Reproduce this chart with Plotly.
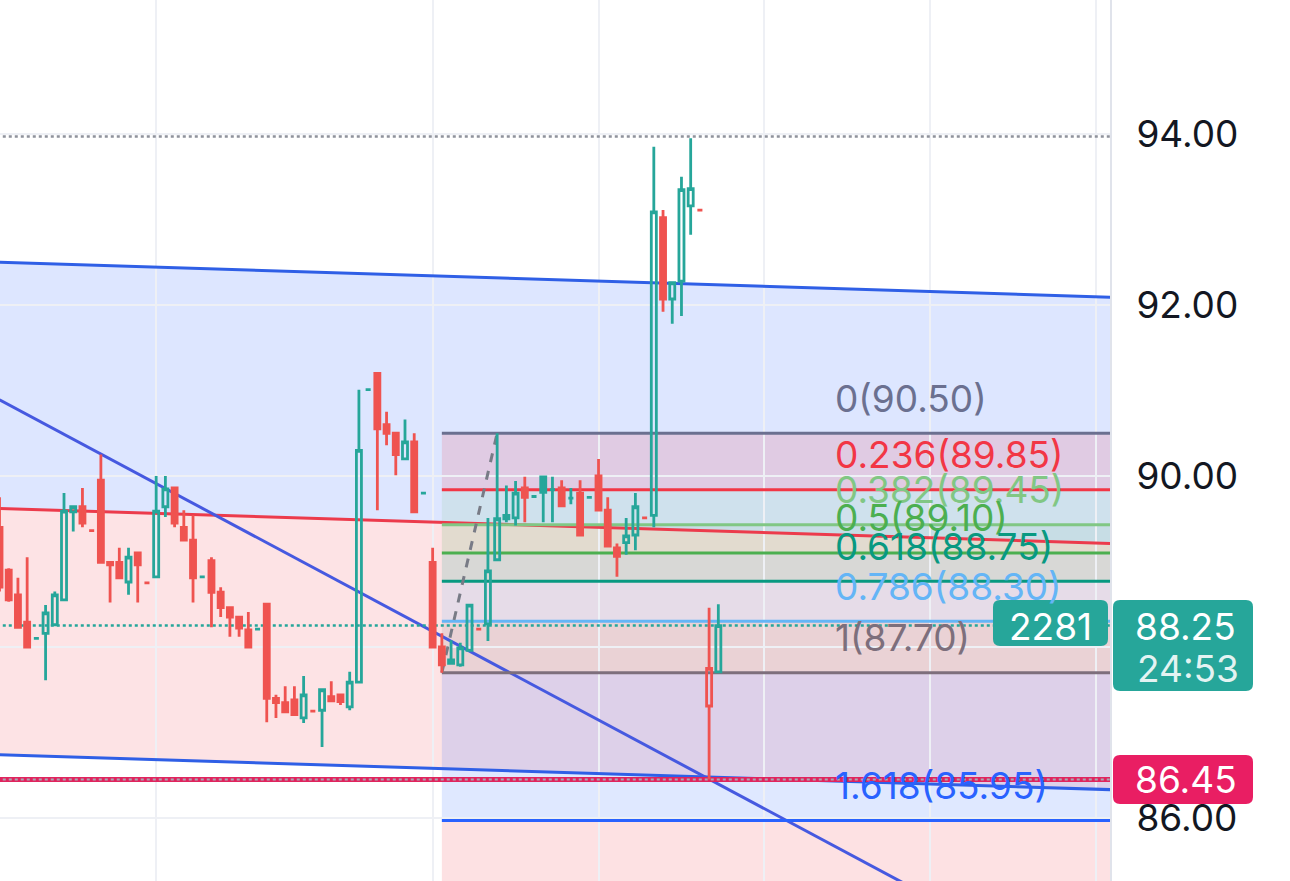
import plotly.graph_objects as go

# ---------------- data ----------------
candle_idx = list(range(79))
opens = [89.40, 88.90, 88.61, 88.29, 88.10, 88.16, 88.26, 88.55, 89.58, 89.64,
         89.36, 89.95, 88.99, 88.99, 88.76, 89.10, 88.75, 88.82, 89.64, 89.86,
         89.40, 89.25, 88.82, 89.01, 88.64, 88.46, 88.35, 88.20, 88.21, 88.50,
         87.40, 87.35, 87.38, 87.17, 87.25, 87.26, 87.42, 87.44, 87.30, 87.59,
         91.01, 91.20, 90.60, 90.50, 90.20, 90.40, 89.80, 88.99, 88.00, 87.81,
         87.79, 87.96, 88.21, 88.27, 89.02, 89.50, 89.51, 89.86, 89.76, 89.99,
         89.84, 89.86, 89.74, 89.80, 89.75, 90.00, 89.60, 89.16, 89.22, 89.31,
         89.51, 89.54, 93.02, 92.07, 92.28, 93.16, 93.11, 87.31, 87.71]
highs = [89.75, 88.92, 88.81, 89.05, 88.10, 88.49, 88.65, 89.80, 89.64, 89.86,
         89.36, 90.25, 88.99, 89.16, 89.16, 89.10, 88.75, 90.00, 90.00, 89.86,
         89.60, 89.54, 88.82, 89.05, 88.70, 88.46, 88.35, 88.41, 88.21, 88.50,
         87.44, 87.54, 87.54, 87.66, 87.25, 87.50, 87.60, 87.44, 87.71, 91.01,
         91.01, 91.20, 90.75, 90.50, 90.66, 90.50, 89.80, 89.16, 88.16, 88.08,
         88.05, 88.49, 88.21, 89.51, 90.50, 89.89, 89.94, 89.99, 89.76, 89.99,
         89.99, 89.95, 89.86, 89.95, 89.75, 90.20, 89.75, 89.21, 89.51, 89.80,
         89.51, 93.85, 93.11, 92.26, 93.50, 93.95, 93.11, 88.46, 88.50]
lows = [88.65, 88.53, 88.22, 87.99, 88.10, 87.61, 88.26, 88.55, 89.35, 89.40,
        89.36, 88.99, 88.52, 88.81, 88.61, 88.52, 88.75, 88.82, 89.52, 89.40,
        89.25, 88.52, 88.82, 88.23, 88.35, 88.12, 88.12, 88.00, 88.21, 87.12,
        87.17, 87.23, 87.21, 87.11, 87.25, 86.83, 87.37, 87.32, 87.26, 87.59,
        91.01, 89.60, 90.36, 90.01, 90.20, 89.57, 89.80, 88.00, 87.70, 87.81,
        87.77, 87.96, 88.21, 88.07, 89.02, 89.46, 89.42, 89.46, 89.76, 89.46,
        89.46, 89.65, 89.67, 89.31, 89.75, 89.60, 89.17, 88.82, 89.08, 89.13,
        89.51, 89.40, 91.92, 91.78, 91.87, 92.82, 93.11, 86.45, 87.71]
closes = [88.70, 88.55, 88.23, 88.00, 88.10, 88.40, 88.61, 89.59, 89.64, 89.45,
          89.36, 88.99, 88.96, 88.81, 89.05, 88.96, 88.75, 89.59, 89.85, 89.45,
          89.25, 88.81, 88.82, 88.64, 88.46, 88.35, 88.22, 88.00, 88.21, 87.40,
          87.35, 87.24, 87.21, 87.44, 87.25, 87.50, 87.37, 87.36, 87.59, 90.30,
          91.01, 90.55, 90.50, 90.25, 90.40, 89.58, 89.80, 88.00, 87.79, 87.85,
          87.99, 88.49, 88.21, 88.89, 89.50, 89.54, 89.80, 89.75, 89.76, 89.81,
          89.84, 89.65, 89.74, 89.31, 89.75, 89.60, 89.18, 89.06, 89.30, 89.64,
          89.51, 93.09, 92.07, 92.26, 93.35, 93.36, 93.11, 87.75, 88.25]

ytick_vals = [86, 88, 90, 92, 94]
ytick_text = ["86.00", "", "90.00", "92.00", "94.00"]
xgrid_idx = [17, 47, 65, 83, 101, 119]

channel_x = [0, 121]
channel_upper = [92.50, 92.09]
channel_lower = [86.74, 86.33]

trend_x = [0, 121]
trend_y = [90.89, 83.92]

fib_start_idx = 48
fib_swing_x = [48, 54]
fib_swing_y = [87.70, 90.50]
fib_ratios = ["0", "0.236", "0.382", "0.5", "0.618", "0.786", "1", "1.618", "2.618"]
fib_prices = [90.50, 89.84, 89.43, 89.10, 88.77, 88.30, 87.70, 85.97, 83.17]
fib_label_prices = ["90.50", "89.85", "89.45", "89.10", "88.75", "88.30", "87.70", "85.95", ""]
fib_colors = ["#6b7090", "#f23645", "#81c784", "#4caf50", "#089981",
              "#64b5f6", "#7d6f7c", "#2962ff", "#f23645"]
fib_label_idx = 90.4

last_price = 88.25
countdown = "24:53"
volume_label = "2281"
range_high = 93.97
range_low = 86.45

X_RANGE = [0.054, 120.5]
Y_RANGE = [85.263, 95.567]

GREEN = "#26a69a"
RED = "#ef5350"
FONT = "Inter, Roboto, sans-serif"
FS = 37

W, H = 1290, 881
PLOT_W = 1110


def rgba(hex_color, a):
    h = hex_color.lstrip("#")
    r, g, b = int(h[0:2], 16), int(h[2:4], 16), int(h[4:6], 16)
    return f"rgba({r},{g},{b},{a})"


# ---------------- candles (hollow style) ----------------
groups = {}
for i in candle_idx:
    prev = closes[i - 1] if i > 0 else opens[i]
    up = closes[i] >= prev
    hollow = closes[i] > opens[i]
    groups.setdefault((up, hollow), []).append(i)

fig = go.Figure()
for (up, hollow), idxs in groups.items():
    col = GREEN if up else RED
    fill = "rgba(0,0,0,0)" if hollow else col
    style = dict(line=dict(color=col, width=2.8), fillcolor=fill)
    fig.add_trace(go.Candlestick(
        x=idxs,
        open=[opens[i] for i in idxs],
        high=[highs[i] for i in idxs],
        low=[lows[i] for i in idxs],
        close=[closes[i] for i in idxs],
        increasing=style, decreasing=style,
        whiskerwidth=0, hoverinfo="skip", showlegend=False,
    ))

shapes = []
# channel fills
mid = [(u + l) / 2 for u, l in zip(channel_upper, channel_lower)]
shapes.append(dict(
    type="path", xref="x", yref="y", layer="below", line=dict(width=0),
    fillcolor=rgba("#2962ff", 0.16),
    path=f"M {channel_x[0]},{channel_upper[0]} L {channel_x[1]},{channel_upper[1]} "
         f"L {channel_x[1]},{mid[1]} L {channel_x[0]},{mid[0]} Z"))
shapes.append(dict(
    type="path", xref="x", yref="y", layer="below", line=dict(width=0),
    fillcolor=rgba("#f23645", 0.14),
    path=f"M {channel_x[0]},{mid[0]} L {channel_x[1]},{mid[1]} "
         f"L {channel_x[1]},{channel_lower[1]} L {channel_x[0]},{channel_lower[0]} Z"))

# fib bands
for k in range(1, len(fib_prices)):
    shapes.append(dict(
        type="rect", xref="x", yref="y", layer="below", line=dict(width=0),
        x0=fib_start_idx, x1=channel_x[1] + 5,
        y0=fib_prices[k - 1], y1=fib_prices[k],
        fillcolor=rgba(fib_colors[k], 0.15)))

# channel lines
for ys, col in [(channel_upper, "#2f5fe6"), (channel_lower, "#2f5fe6"), (mid, "#ec3b4c")]:
    shapes.append(dict(type="line", xref="x", yref="y", layer="between",
                       x0=channel_x[0], x1=channel_x[1], y0=ys[0], y1=ys[1],
                       line=dict(color=col, width=3)))
# trend line
shapes.append(dict(type="line", xref="x", yref="y", layer="between",
                   x0=trend_x[0], x1=trend_x[1], y0=trend_y[0], y1=trend_y[1],
                   line=dict(color="#4659e0", width=3)))

# fib level lines
for k in range(len(fib_prices) - 1):
    shapes.append(dict(type="line", xref="x", yref="y", layer="between",
                       x0=fib_start_idx, x1=channel_x[1] + 5,
                       y0=fib_prices[k], y1=fib_prices[k],
                       line=dict(color=fib_colors[k], width=3)))
# fib swing (dashed)
shapes.append(dict(type="line", xref="x", yref="y", layer="between",
                   x0=fib_swing_x[0], x1=fib_swing_x[1],
                   y0=fib_swing_y[0], y1=fib_swing_y[1],
                   line=dict(color="#787b86", width=3, dash="dash")))

# price lines
shapes.append(dict(type="line", xref="x", yref="y", layer="between",
                   x0=X_RANGE[0] - 1, x1=X_RANGE[1] + 1, y0=range_high, y1=range_high,
                   line=dict(color="#8f929c", width=2.5, dash="dot")))
shapes.append(dict(type="line", xref="x", yref="y", layer="between",
                   x0=X_RANGE[0] - 1, x1=X_RANGE[1] + 1, y0=last_price, y1=last_price,
                   line=dict(color=GREEN, width=2.5, dash="dot")))
shapes.append(dict(type="line", xref="x", yref="y", layer="between",
                   x0=X_RANGE[0] - 1, x1=X_RANGE[1] + 1, y0=range_low, y1=range_low,
                   line=dict(color="#e0245e", width=5)))
shapes.append(dict(type="line", xref="x", yref="y", layer="between",
                   x0=X_RANGE[0] - 1, x1=X_RANGE[1] + 1, y0=range_low, y1=range_low,
                   line=dict(color="#a8a9b3", width=2, dash="dot")))


def rrect(x0, y0, x1, y1, r, color):
    def P(px, py):
        return f"{px / PLOT_W:.5f},{1 - py / H:.5f}"
    path = (f"M {P(x0 + r, y0)} L {P(x1 - r, y0)} Q {P(x1, y0)} {P(x1, y0 + r)} "
            f"L {P(x1, y1 - r)} Q {P(x1, y1)} {P(x1 - r, y1)} "
            f"L {P(x0 + r, y1)} Q {P(x0, y1)} {P(x0, y1 - r)} "
            f"L {P(x0, y0 + r)} Q {P(x0, y0)} {P(x0 + r, y0)} Z")
    return dict(type="path", xref="paper", yref="paper", layer="above",
                path=path, fillcolor=color, line=dict(width=0))


shapes.append(rrect(993, 600, 1108, 646, 7, GREEN))
shapes.append(rrect(1113, 600, 1253, 691, 7, GREEN))
shapes.append(rrect(1113, 755, 1253, 804, 7, "#e91e63"))

annotations = []
for k in range(len(fib_prices) - 1):
    annotations.append(dict(
        x=fib_label_idx, y=fib_prices[k], xref="x", yref="y",
        text=f"{fib_ratios[k]}({fib_label_prices[k]})",
        showarrow=False, xanchor="left", yanchor="middle", yshift=35,
        font=dict(family=FONT, size=FS, color=fib_colors[k])))

annotations += [
    dict(x=1050.5 / PLOT_W, y=last_price, xref="paper", yref="y", text=volume_label,
         showarrow=False, xanchor="center", yanchor="middle", yshift=-1,
         font=dict(family=FONT, size=FS, color="white")),
    dict(x=1133 / PLOT_W, y=last_price, xref="paper", yref="y", text=f"{last_price:.2f}",
         showarrow=False, xanchor="left", yanchor="middle", yshift=-1,
         font=dict(family=FONT, size=FS, color="white")),
    dict(x=1135 / PLOT_W, y=1 - 668 / H, xref="paper", yref="paper", text=countdown,
         showarrow=False, xanchor="left", yanchor="middle",
         font=dict(family=FONT, size=FS, color="rgba(255,255,255,0.88)")),
    dict(x=1133 / PLOT_W, y=range_low, xref="paper", yref="y", text=f"{range_low:.2f}",
         showarrow=False, xanchor="left", yanchor="middle",
         font=dict(family=FONT, size=FS, color="white")),
]

fig.update_layout(
    width=W, height=H,
    margin=dict(l=0, r=W - PLOT_W, t=0, b=0, pad=0),
    paper_bgcolor="white", plot_bgcolor="white",
    showlegend=False, boxgap=0.22,
    shapes=shapes, annotations=annotations,
    xaxis=dict(range=X_RANGE, rangeslider=dict(visible=False),
               tickvals=xgrid_idx, showticklabels=False, ticks="",
               showgrid=True, gridcolor="#eef0f5", gridwidth=2,
               zeroline=False, showline=False, fixedrange=True),
    yaxis=dict(range=Y_RANGE, side="right", tickvals=ytick_vals, ticktext=ytick_text,
               tickfont=dict(family=FONT, size=FS, color="#131722"),
               ticks="", ticklabelstandoff=17,
               showgrid=True, gridcolor="#eef0f5", gridwidth=2,
               zeroline=False, showline=True, linecolor="#e0e3eb", linewidth=2,
               fixedrange=True),
)

fig.write_html("out.html", config={"displayModeBar": False, "staticPlot": True},
               post_script="document.body.style.margin='0';document.body.style.overflow='hidden';")
